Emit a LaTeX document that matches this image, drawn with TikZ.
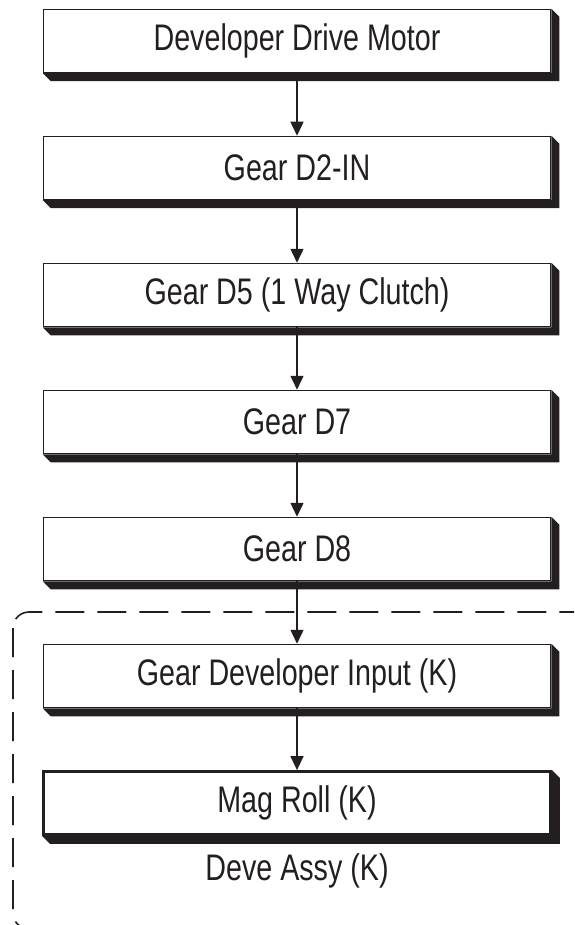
\documentclass[tikz,border=0pt]{standalone}
\usepackage{fontspec}
\setmainfont{Liberation Sans}[FakeStretch=0.775]
\usetikzlibrary{arrows.meta,calc}
\definecolor{ink}{HTML}{231F20}
\begin{document}
\begin{tikzpicture}[x=1pt,y=-1pt,
  box/.style={draw=ink, line width=1.5pt, fill=white, minimum width=507pt, minimum height=63pt, inner sep=0pt, font=\fontsize{37}{42}\selectfont, text=ink},
  boldbox/.style={box, line width=2.8pt},
  plainlabel/.style={inner sep=0pt, font=\fontsize{37}{42}\selectfont, text=ink},
  flow/.style={draw=ink, line width=1.5pt, -{Triangle[width=13pt,length=14pt]}},
  frame/.style={draw=ink, line width=1.6pt, dash pattern=on 29pt off 13pt, rounded corners=16pt}]
\useasboundingbox (0,0) rectangle (574,925);

% dashed assembly frame (clipped at the picture edge)
\begin{scope}
  \clip (0,0) rectangle (574,925);
  \draw[frame] (13,612) rectangle (590,929);
\end{scope}

\node[box] (motor) at (297,41) {Developer Drive Motor};
\node[box] (d2) at (297,168) {Gear D2-IN};
\node[box] (d5) at (297,295) {Gear D5 (1 Way Clutch)};
\node[box] (d7) at (297,422) {Gear D7};
\node[box] (d8) at (297,549) {Gear D8};
\node[box] (input) at (297,676) {Gear Developer Input (K)};
\node[boldbox] (mag) at (297,803) {Mag Roll (K)};
\node[plainlabel] (deve) at (297,871) {Deve Assy (K)};

\foreach \n in {motor,d2,d5,d7,d8,input,mag}{
  \fill[ink] (\n.north east) -- ++(8,8) -- ($(\n.south east)+(8,8)$) -- ($(\n.south west)+(8,8)$) -- (\n.south west) -- (\n.south east) -- cycle;
}

\draw[flow] (motor) -- (d2);
\draw[flow] (d2) -- (d5);
\draw[flow] (d5) -- (d7);
\draw[flow] (d7) -- (d8);
\draw[flow] (d8) -- (input);
\draw[flow] (input) -- (mag);
\end{tikzpicture}
\end{document}
